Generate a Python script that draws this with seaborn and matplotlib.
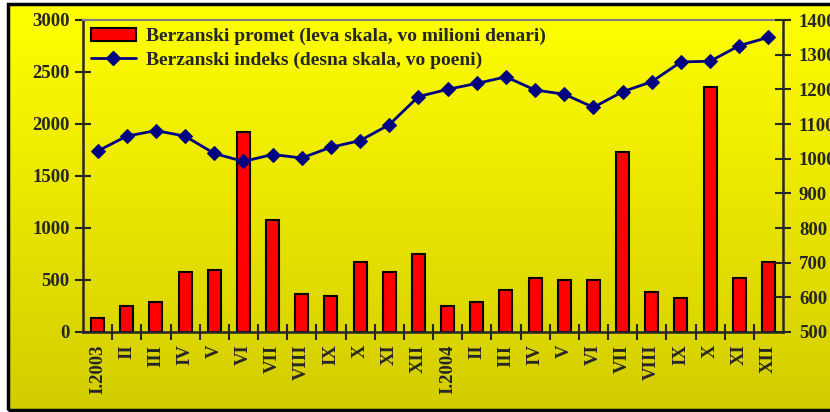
import numpy as np
import pandas as pd
import matplotlib.pyplot as plt
import seaborn as sns
from matplotlib.patches import Rectangle, Patch
from matplotlib.lines import Line2D

months = ['I.2003', 'II', 'III', 'IV', 'V', 'VI', 'VII', 'VIII', 'IX', 'X', 'XI', 'XII',
          'I.2004', 'II', 'III', 'IV', 'V', 'VI', 'VII', 'VIII', 'IX', 'X', 'XI', 'XII']
# Berzanski promet, milioni denari (leva skala)
promet = [135, 253, 292, 577, 596, 1920, 1077, 365, 349, 673, 577, 750,
          250, 288, 404, 519, 500, 500, 1731, 385, 327, 2360, 516, 673]
# Berzanski indeks, poeni (desna skala)
indeks = [1022, 1065, 1081, 1065, 1015, 992, 1012, 1002, 1033, 1052, 1098, 1179,
          1200, 1217, 1236, 1198, 1186, 1148, 1193, 1222, 1279, 1281, 1326, 1350]

df = pd.DataFrame({'pos': range(len(months)), 'promet': promet, 'indeks': indeks})

sns.set_style('white')
plt.rcParams['font.family'] = ['Liberation Serif', 'DejaVu Serif']
plt.rcParams['font.weight'] = 'bold'

fig = plt.figure(figsize=(8.3, 4.12), dpi=100, facecolor='white')

# yellow gradient background with black frame
bg = fig.add_axes([8 / 830, 2 / 412, 1, 406 / 412], zorder=-10)
grad = np.linspace(0, 1, 256).reshape(-1, 1)
top_c = np.array([1.0, 1.0, 0.0])
bot_c = np.array([0.83, 0.80, 0.0])
img = top_c[None, None, :] * (1 - grad[:, :, None]) + bot_c[None, None, :] * grad[:, :, None]
bg.imshow(img, aspect='auto', extent=[0, 1, 0, 1])
bg.set_axis_off()
fig.patches.append(Rectangle((8 / 830, 2 / 412), 1, 406 / 412, transform=fig.transFigure,
                             fill=False, edgecolor='black', linewidth=2.5, zorder=5))

ax = fig.add_axes([83 / 830, 80 / 412, 700 / 830, 312 / 412])
ax.set_facecolor('none')
sns.barplot(data=df, x='pos', y='promet', ax=ax, color='#ff0000', edgecolor='black',
            linewidth=1.5, width=0.45, saturation=1)
ax.set_xlim(-0.5, len(months) - 0.5)
ax.set_ylim(0, 3000)
ax.set_yticks(range(0, 3001, 500))
ax.set_xticks(range(len(months)))
ax.set_xticklabels(months, rotation=90, fontsize=13.5, fontweight='bold')
ax.set_xticks(np.arange(0.5, len(months) - 1, 1), minor=True)
ax.tick_params(axis='x', which='major', length=0, pad=9)
ax.tick_params(axis='x', which='minor', direction='inout', length=11, width=1.5, bottom=True)
ax.tick_params(axis='y', direction='inout', length=11, width=1.5, labelsize=13.5, pad=4, left=True)
for lab in ax.get_yticklabels():
    lab.set_fontweight('bold')
ax.set_xlabel('')
ax.set_ylabel('')
ax.spines['left'].set_linewidth(1.8)
ax.spines['bottom'].set_linewidth(1.8)
ax.spines['right'].set_visible(False)
ax.spines['top'].set_color('#808080')
ax.spines['top'].set_linewidth(1.5)

ax2 = ax.twinx()
sns.lineplot(data=df, x='pos', y='indeks', ax=ax2, color='#000080', linewidth=2,
             marker='D', markersize=7.5, markeredgecolor='#000080')
ax2.set_ylim(500, 1400)
ax2.set_yticks(range(500, 1401, 100))
ax2.tick_params(axis='y', direction='inout', length=11, width=1.5, labelsize=13.5, pad=6, right=True)
for lab in ax2.get_yticklabels():
    lab.set_fontweight('bold')
ax2.set_ylabel('')
ax2.set_xlabel('')
ax2.spines['right'].set_linewidth(1.8)
ax2.spines['top'].set_visible(False)
ax2.spines['left'].set_visible(False)
ax2.spines['bottom'].set_visible(False)

handles = [Patch(facecolor='#ff0000', edgecolor='black', linewidth=1.5),
           Line2D([0], [0], color='#000080', linewidth=2, marker='D', markersize=7.5)]
labels = ['Berzanski promet (leva skala, vo milioni denari)',
          'Berzanski indeks (desna skala, vo poeni)']
ax2.legend(handles, labels, loc='upper left', frameon=False,
           prop={'weight': 'bold', 'size': 14}, handlelength=2.3, handletextpad=0.55,
           labelspacing=0.3, borderaxespad=0.2, borderpad=0.2)

plt.savefig('out.png', dpi=100, facecolor='white')
